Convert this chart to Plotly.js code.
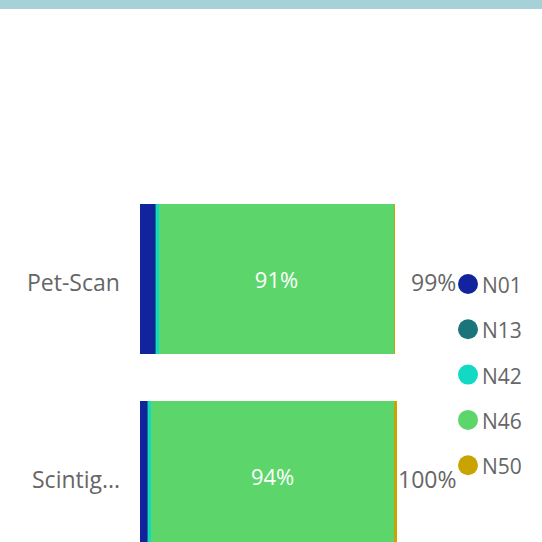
<!DOCTYPE html>
<html>
<head>
<meta charset="utf-8">
<script src="https://cdn.plot.ly/plotly-3.0.1.min.js"></script>
<style>html,body{margin:0;padding:0;background:#fff;}#chart{width:542px;height:542px;}</style>
</head>
<body>
<div id="chart"></div>
<script>
// ---- data ----
const categories = ['Pet-Scan', 'Scintig...'];
const seriesNames = ['N01', 'N13', 'N42', 'N46', 'N50'];
const N01 = [5.7, 2.7];
const N13 = [0.6, 0.5];
const N42 = [0.9, 1.2];
const N46 = [91.4, 94.0];
const N50 = [0.4, 1.3];
const seriesColors = ['#12239E', '#1B7479', '#12D9C3', '#5CD66A', '#C9A300'];

const seriesValues = [N01, N13, N42, N46, N50];
const labelled = [false, false, false, true, false];

// ---- geometry helpers (pixel -> paper) ----
const W = 542, H = 542;
const M = {l: 140, r: 144, t: 9, b: 0};
const PW = W - M.l - M.r, PH = H - M.t - M.b;
const px = x => (x - M.l) / PW;
const py = y => (H - M.b - y) / PH;

const FONT = '"Open Sans", "Noto Sans", sans-serif';
const GREY = '#666666';

const traces = seriesValues.map((vals, i) => ({
  type: 'bar',
  orientation: 'h',
  name: seriesNames[i],
  y: categories,
  x: vals,
  marker: {color: seriesColors[i], line: {width: 0}},
  text: labelled[i] ? vals.map(v => Math.round(v) + '%') : undefined,
  textposition: labelled[i] ? 'inside' : 'none',
  insidetextanchor: 'middle',
  textfont: {family: FONT, size: 22, color: '#ffffff'},
  hoverinfo: 'none',
  showlegend: false
}));

const totals = categories.map((c, j) => seriesValues.reduce((s, arr) => s + arr[j], 0));

const annotations = [];
const shapes = [];

// top band
shapes.push({type: 'rect', xref: 'paper', yref: 'paper', x0: px(0), x1: px(W), y0: py(9), y1: py(-2),
  fillcolor: '#A6D1D9', line: {width: 0}, layer: 'above'});

// category labels
categories.forEach((c, j) => {
  annotations.push({xref: 'paper', yref: 'y', x: px(122), y: c, yshift: -3,
    xanchor: 'right', yanchor: 'middle', showarrow: false,
    text: c, font: {family: FONT, size: 23, color: GREY}});
});

// totals
categories.forEach((c, j) => {
  annotations.push({xref: 'paper', yref: 'y', x: px(458), y: c, yshift: -3,
    xanchor: 'right', yanchor: 'middle', showarrow: false,
    text: Math.round(totals[j]) + '%', font: {family: FONT, size: 23, color: GREY}});
});

// legend
seriesNames.forEach((n, i) => {
  const cy = 284 + i * 45.3;
  shapes.push({type: 'circle', xref: 'paper', yref: 'paper',
    x0: px(458), x1: px(478), y0: py(cy + 10), y1: py(cy - 10),
    fillcolor: seriesColors[i], line: {width: 0}});
  annotations.push({xref: 'paper', yref: 'paper', x: px(480), y: py(cy + 1),
    xanchor: 'left', yanchor: 'middle', showarrow: false,
    text: n, font: {family: FONT, size: 21, color: GREY}});
});

const layout = {
  width: W, height: H,
  margin: M,
  paper_bgcolor: '#ffffff', plot_bgcolor: '#ffffff',
  barmode: 'stack',
  bargap: 0.239,
  showlegend: false,
  xaxis: {range: [0, 100], visible: false, fixedrange: true},
  yaxis: {
    type: 'category', categoryorder: 'array', categoryarray: categories,
    range: [1 + (542 - 476) / 197, -(279 - 9) / 197],
    showgrid: false, zeroline: false, showline: false,
    showticklabels: false, fixedrange: true
  },
  shapes: shapes,
  annotations: annotations,
  font: {family: FONT, color: GREY}
};

Plotly.newPlot('chart', traces, layout, {displayModeBar: false, staticPlot: true});
</script>
</body>
</html>
